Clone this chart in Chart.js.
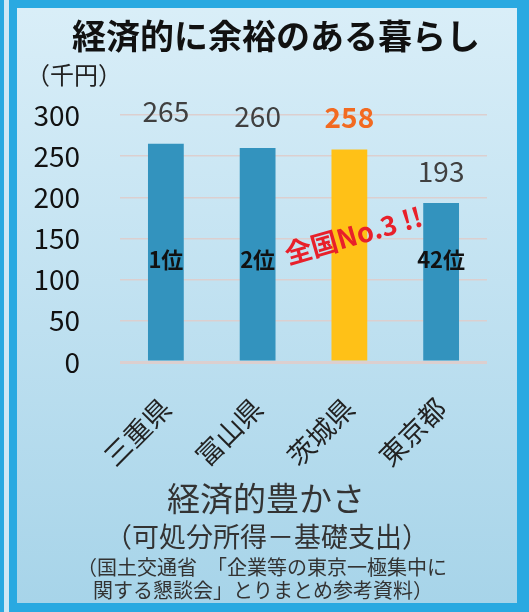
<!DOCTYPE html>
<html>
<head>
<meta charset="utf-8">
<script src="https://cdn.jsdelivr.net/npm/chart.js@4.4.1/dist/chart.umd.min.js"></script>
<style>
  body { margin: 0; padding: 0; background: #29a9e1; }
  canvas { display: block; }
</style>
</head>
<body>
<canvas id="barChart" width="529" height="612"></canvas>
<script>
// data
const prefectures = ['三重県', '富山県', '茨城県', '東京都'];
const surplus = [265, 260, 258, 193];
const ranks = ['1位', '2位', '', '42位'];
const yTicks = [0, 50, 100, 150, 200, 250, 300];

const JP = '"Noto Sans CJK JP", "Noto Sans", sans-serif';
const barColors = ['#3393be', '#3393be', '#ffc117', '#3393be'];

// frame + gradient panel
const framePlugin = {
    id: 'frame',
    beforeDraw(chart) {
        const c = chart.ctx;
        c.save();
        c.fillStyle = '#29a9e1';
        c.fillRect(0, 0, chart.width, chart.height);
        c.fillStyle = '#cfe8f5';
        c.fillRect(4, 0, 5, chart.height);
        let g = c.createLinearGradient(0, 8, 0, 603);
        g.addColorStop(0, '#d9eef8');
        g.addColorStop(1, '#a7d4e9');
        c.fillStyle = g;
        c.fillRect(17, 8, 500, 595);
        c.restore();
    }
};

// texts and labels
const labelPlugin = {
    id: 'labels',
    afterDatasetsDraw(chart) {
        const c = chart.ctx;
        const meta = chart.getDatasetMeta(0);
        const yScale = chart.scales.y;
        c.save();
        c.textAlign = 'center';
        c.textBaseline = 'middle';

        meta.data.forEach((bar, i) => {
            if (i === 2) {
                c.font = 'bold 28px ' + JP;
                c.fillStyle = '#f26a21';
            } else {
                c.font = '28px ' + JP;
                c.fillStyle = '#404040';
            }
            c.fillText(surplus[i], bar.x, bar.y - 32);

            if (ranks[i]) {
                c.font = 'bold 22px ' + JP;
                c.fillStyle = '#111';
                c.fillText(ranks[i], bar.x, yScale.getPixelForValue(124));
            }
        });

        // 全国No.3!!
        let b3 = meta.data[2];
        c.translate(b3.x + 4, yScale.getPixelForValue(154));
        c.rotate(-16 * Math.PI / 180);
        c.font = 'bold 27px ' + JP;
        c.fillStyle = '#e8202a';
        c.fillText('全国No.3 !!', 0, 0);
        c.restore();
    },
    afterDraw(chart) {
        const c = chart.ctx;
        c.save();
        c.textBaseline = 'middle';
        c.fillStyle = '#111';
        c.textAlign = 'center';
        c.font = 'bold 34px ' + JP;
        c.fillText('経済的に余裕のある暮らし', 276, 36);

        c.textAlign = 'left';
        c.font = '24px ' + JP;
        c.fillStyle = '#222';
        c.fillText('（千円）', 26, 75);

        c.textAlign = 'center';
        c.fillStyle = '#333';
        c.font = '33px ' + JP;
        c.fillText('経済的豊かさ', 266, 498);
        c.font = '27px ' + JP;
        c.fillText('（可処分所得－基礎支出）', 267, 537);
        c.font = '20px ' + JP;
        c.fillText('（国土交通省　「企業等の東京一極集中に', 262, 567);
        c.fillText('関する懇談会」とりまとめ参考資料）', 263, 590);
        c.restore();
    }
};

let ctx = document.getElementById('barChart').getContext('2d');
let chart = new Chart(ctx, {
    type: 'bar',
    data: {
        labels: prefectures,
        datasets: [{
            data: surplus,
            backgroundColor: barColors,
            barPercentage: 0.39,
            categoryPercentage: 1
        }]
    },
    options: {
        responsive: false,
        animation: false,
        layout: { padding: { top: 115, right: 42, left: 0, bottom: 0 } },
        plugins: {
            legend: { display: false },
            tooltip: { enabled: false }
        },
        scales: {
            x: {
                grid: { display: false },
                border: { display: false },
                ticks: {
                    minRotation: 45,
                    maxRotation: 45,
                    padding: 22,
                    color: '#222',
                    font: { family: JP, size: 27 }
                },
                afterFit(scale) { scale.height = 250; }
            },
            y: {
                min: 0,
                max: 300,
                afterBuildTicks(scale) {
                    scale.ticks = yTicks.map(v => ({ value: v }));
                },
                grid: {
                    drawTicks: false,
                    color: '#dccfcf',
                    lineWidth: c => c.tick && c.tick.value === 0 ? 3 : 1.5
                },
                border: { display: false },
                ticks: {
                    padding: 40,
                    color: '#111',
                    font: { family: JP, size: 28 }
                },
                afterFit(scale) { scale.width = 120; }
            }
        }
    },
    plugins: [framePlugin, labelPlugin]
});
</script>
</body>
</html>
